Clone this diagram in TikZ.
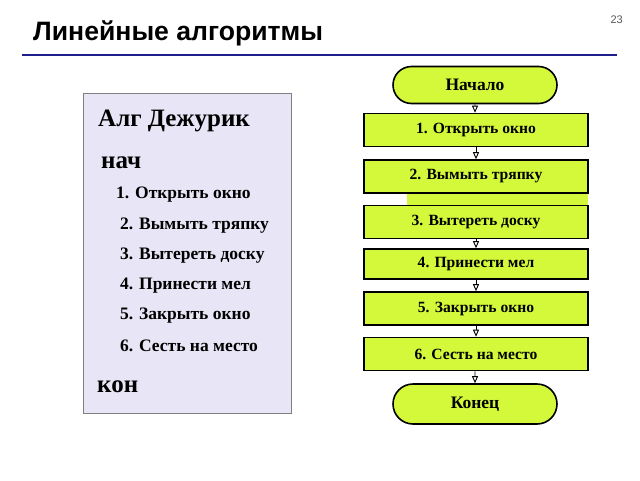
\documentclass[tikz,border=0pt]{standalone}
\usepackage{fontspec}
\setmainfont{Liberation Serif}
\setsansfont{Liberation Sans}
\usetikzlibrary{arrows.meta,shapes.misc}
\definecolor{lime}{RGB}{212,248,58}
\definecolor{lav}{RGB}{232,230,246}
\definecolor{titleblue}{RGB}{30,30,140}
\tikzset{
  stepbox/.style={draw=black, line width=1.6pt, fill=lime, minimum width=224pt, minimum height=33pt, inner sep=0pt, font=\bfseries\fontsize{15.6}{17}\selectfont},
  term/.style={draw=black, line width=1.6pt, fill=lime, rounded rectangle, minimum width=164pt, minimum height=37pt, inner sep=0pt, font=\bfseries\fontsize{17.5}{19}\selectfont},
  conn/.style={line width=0.9pt, -{Triangle[open, length=7pt, width=6pt]}},
  lst/.style={anchor=west, inner sep=0pt, font=\bfseries\fontsize{17.5}{19}\selectfont},
  big/.style={anchor=west, inner sep=0pt, font=\bfseries\fontsize{25}{28}\selectfont},
}
\begin{document}
\begin{tikzpicture}[x=1pt,y=-1pt]
\useasboundingbox (0,0) rectangle (640,480);
\fill[white] (0,0) rectangle (640,480);
\node[anchor=west, inner sep=0pt, font=\sffamily\bfseries\fontsize{26.6}{29}\selectfont] (title) at (33,33) {Линейные алгоритмы};
\node[anchor=east, inner sep=0pt, text=gray!70!black, font=\sffamily\fontsize{11}{13}\selectfont] (pnum) at (623,20) {23};
\draw[titleblue, line width=2pt] (22,55) coordinate (l1) -- (617,55) coordinate (l2);
% left box
\node[draw=gray, line width=1pt, fill=lav, minimum width=208pt, minimum height=320pt, inner sep=0pt, anchor=north west] (algbox) at (83,93) {};
\node[big] (alg) at (98,121) {Алг Дежурик};
\node[big] (nach) at (101,163) {нач};
\node[lst] (i1) at (116,195) {1. Открыть окно};
\node[lst] (i2) at (120,226) {2. Вымыть тряпку};
\node[lst] (i3) at (120,256) {3. Вытереть доску};
\node[lst] (i4) at (120,286) {4. Принести мел};
\node[lst] (i5) at (120,316) {5. Закрыть окно};
\node[lst] (i6) at (120,346) {6. Сесть на место};
\node[big] (kon) at (97,387) {кон};
% flowchart
\fill[lime] (407,193) rectangle (588,206);
\node[term] (start) at (475,85) {Начало};
\node[stepbox] (s1) at (476,130) {1. Открыть окно};
\node[stepbox] (s2) at (476,176.5) {2. Вымыть тряпку};
\node[stepbox] (s3) at (476,222) {3. Вытереть доску};
\node[stepbox, minimum height=30pt] (s4) at (476,264) {4. Принести мел};
\node[stepbox] (s5) at (476,308.5) {5. Закрыть окно};
\node[stepbox] (s6) at (476,354) {6. Сесть на место};
\node[term, minimum height=40pt] (stop) at (475,404) {Конец};
\draw[conn] (start) -- (start |- s1.north);
\draw[conn] (s1) -- (s2);
\draw[conn] (s3) -- (s4);
\draw[conn] (s4) -- (s5);
\draw[conn] (s5) -- (s6);
\draw[conn] (s6.south -| stop) -- (stop);
\end{tikzpicture}
\end{document}
